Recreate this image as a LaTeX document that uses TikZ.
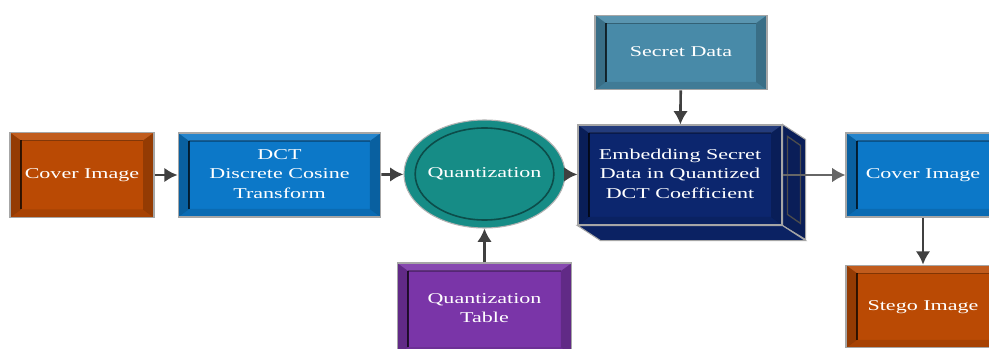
\documentclass[tikz,border=0pt]{standalone}
\usepackage{fontspec}
\setmainfont{Liberation Serif}
\usepackage{graphicx}
\usetikzlibrary{positioning,arrows,arrows.meta,calc,shapes}

\definecolor{rust}{RGB}{186,74,4}
\definecolor{sky}{RGB}{12,120,200}
\definecolor{sea}{RGB}{22,140,134}
\definecolor{navy}{RGB}{12,38,110}
\definecolor{steel}{RGB}{72,138,168}
\definecolor{plum}{RGB}{122,53,168}

\newcommand{\wide}[1]{\scalebox{1.47}[1]{\begin{tabular}{@{}c@{}}#1\end{tabular}}}

\tikzset{
    bevel/.style = {
        path picture={
            \path (path picture bounding box.north west) coordinate (A)
                  (path picture bounding box.north east) coordinate (B)
                  (path picture bounding box.south east) coordinate (C)
                  (path picture bounding box.south west) coordinate (D);
            \fill[white, opacity=.1] (A) -- (B) -- ($(B)+(-11,8)$) -- ($(A)+(11,8)$) -- cycle;
            \fill[black, opacity=.2] (B) -- (C) -- ($(C)+(-11,-8)$) -- ($(B)+(-11,8)$) -- cycle;
            \fill[black, opacity=.1] (D) -- (C) -- ($(C)+(-11,-8)$) -- ($(D)+(11,-8)$) -- cycle;
            \fill[black, opacity=.2] (A) -- (D) -- ($(D)+(11,-8)$) -- ($(A)+(11,8)$) -- cycle;
            \draw[black, opacity=.7, line width=1.5pt] ($(D)+(11,-8)$) -- ($(A)+(11,8)$);
            \draw[black, opacity=.3, line width=0.8pt] ($(A)+(11,8)$) -- ($(B)+(-11,8)$);
        }
    },
    block/.style = {
        draw=gray!70,
        shape=rectangle,
        line width=0.8pt,
        inner sep=0pt,
        text=white,
        font=\fontsize{11.25}{15}\selectfont,
        bevel
    },
    disc/.style = {
        draw=gray!60,
        shape=ellipse,
        line width=0.8pt,
        inner sep=0pt,
        text=white,
        font=\fontsize{11.25}{15}\selectfont,
        minimum width=116pt,
        minimum height=81pt,
        path picture={
            \draw[sea!55!black, line width=1.2pt] (path picture bounding box.center)
                ellipse [x radius=52pt, y radius=34.5pt];
        }
    },
    flow/.style = {
        draw=black!75,
        line width=2pt,
        ->
    },
    >={Latex[length=10pt,width=11pt]},
}

\begin{document}
\begin{tikzpicture}[x=0.75pt, y=-0.75pt]
    \useasboundingbox (0,0) rectangle (989,349);
    \clip (0,0) rectangle (989,349);

    \node[block, fill=rust, minimum width=108pt, minimum height=63.75pt] (cover) at (82,175) {\wide{Cover Image}};
    \node[block, fill=sky, minimum width=152pt, minimum height=63pt] (dct) at (279.5,175) {\wide{DCT\\Discrete Cosine\\Transform}};
    \node[disc, fill=sea] (quant) at (484.5,174) {\wide{Quantization}};
    \node[block, fill=plum, minimum width=131pt, minimum height=69pt] (qtable) at (484.5,309) {\wide{Quantization\\Table}};
    \node[block, fill=steel, minimum width=129pt, minimum height=56pt] (secret) at (681,52.5) {\wide{Secret Data}};
    \node[block, fill=navy, minimum width=153pt, minimum height=75pt] (embed) at (680,175) {\wide{Embedding Secret\\Data in Quantized\\DCT Coefficient}};
    \node[block, fill=sky, minimum width=115.5pt, minimum height=63pt] (cover2) at (923,175) {\wide{Cover Image}};
    \node[block, fill=rust, minimum width=115.5pt, minimum height=62pt] (stego) at (923,306.5) {\wide{Stego Image}};

    % depth of the embedding box
    \path[draw=gray!70, line width=0.8pt, fill=navy!80!black] (embed.north east) -- ++(23,15) -- ++(0,100) -- (embed.south east) -- cycle;
    \path[draw=gray!70, line width=0.8pt, fill=navy!90!black] (embed.south west) -- ++(23,15) -- ($(embed.south east)+(23,15)$) -- (embed.south east) -- cycle;
    \path[draw=black!70, line width=1pt] ($(embed.north east)+(5,12)$) -- ++(13,9) -- ++(0,78) -- ++(-13,-9) -- cycle;

    \path[flow] (cover) -- (dct);
    \path[flow] (dct) -- (quant);
    \path[flow] (quant) -- (embed);
    \path[flow] (qtable) -- (quant);
    \path[flow] (secret) -- (embed);
    \path[flow, draw=black!60, line width=1.4pt] (embed.east) -- (cover2);
    \path[flow] (cover2) -- (stego);
\end{tikzpicture}
\end{document}
